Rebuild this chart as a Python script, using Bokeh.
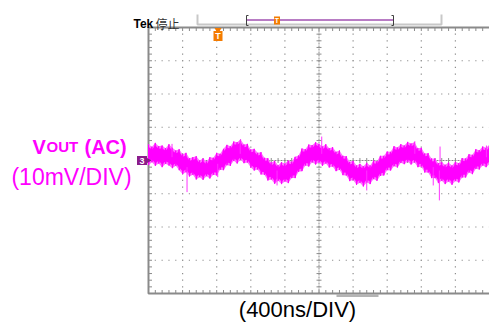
import numpy as np
from bokeh.plotting import figure
from bokeh.models import Range1d, Label, ColumnDataSource
from bokeh.embed import file_html
from bokeh.resources import INLINE

# ---------------- data (divisions; x: 0..10 div = 400 ns/div, y: -4..4 div = 10 mV/div)
trace_x = [round(0.1 * i, 1) for i in range(101)]
trace_top = [0.49, 0.41, 0.53, 0.43, 0.45, 0.37, 0.49, 0.38, 0.30, 0.34,
             0.19, 0.23, 0.07, 0.10, 0.13, 0.00, 0.06, -0.03, 0.10, 0.08,
             0.23, 0.20, 0.35, 0.47, 0.43, 0.57, 0.55, 0.63, 0.48, 0.50,
             0.33, 0.35, 0.23, 0.25, 0.08, 0.07, -0.06, -0.01, -0.14, -0.05,
             -0.09, 0.00, -0.04, 0.11, 0.15, 0.36, 0.34, 0.48, 0.46, 0.55,
             0.50, 0.42, 0.49, 0.37, 0.40, 0.26, 0.30, 0.14, 0.13, -0.04,
             -0.01, -0.15, -0.10, -0.17, -0.07, -0.15, 0.00, -0.02, 0.14, 0.14,
             0.27, 0.26, 0.43, 0.39, 0.49, 0.45, 0.56, 0.51, 0.55, 0.37,
             0.38, 0.21, 0.22, 0.06, 0.06, -0.08, -0.05, -0.13, -0.06, -0.15,
             -0.04, -0.08, 0.07, 0.06, 0.19, 0.17, 0.34, 0.31, 0.42, 0.38,
             0.47]
trace_bot = [-0.14, -0.05, -0.16, -0.09, -0.20, -0.10, -0.15, -0.23, -0.16, -0.29,
             -0.41, -0.35, -0.48, -0.43, -0.57, -0.50, -0.58, -0.47, -0.54, -0.43,
             -0.45, -0.28, -0.29, -0.14, -0.16, -0.01, -0.09, 0.02, -0.08, -0.06,
             -0.21, -0.30, -0.27, -0.42, -0.43, -0.60, -0.57, -0.70, -0.61, -0.71,
             -0.63, -0.68, -0.53, -0.53, -0.34, -0.32, -0.15, -0.18, -0.05, -0.12,
             -0.06, -0.16, -0.09, -0.21, -0.18, -0.32, -0.28, -0.44, -0.45, -0.62,
             -0.59, -0.73, -0.67, -0.78, -0.66, -0.71, -0.56, -0.61, -0.46, -0.45,
             -0.29, -0.30, -0.17, -0.21, -0.07, -0.11, -0.04, -0.12, -0.05, -0.20,
             -0.18, -0.36, -0.36, -0.53, -0.53, -0.68, -0.61, -0.71, -0.63, -0.73,
             -0.62, -0.66, -0.51, -0.51, -0.36, -0.41, -0.25, -0.27, -0.15, -0.20,
             -0.11]
spike_x = [0.69, 1.13, 2.03, 2.69, 3.77, 5.08, 6.40, 7.81, 8.35, 8.53, 8.55, 9.91]
spike_lo = [0.10, -0.95, -0.50, 0.20, -0.75, 0.20, -0.90, 0.20, -0.75, -1.20, -0.10, 0.10]
spike_hi = [0.50, -0.20, -0.10, 0.62, -0.30, 0.72, -0.30, 0.58, -0.20, -0.30, 0.42, 0.45]

x_divs = list(range(0, 11))
y_divs = list(range(-4, 5))
x_label = "(400ns/DIV)"
y_label_1 = "(10mV/DIV)"

# ---------------- figure: whole canvas is data space, scope screen = [0,10] x [-4,4]
W, H = 489, 323
PX_X, PX_Y = 34.1, 33.25          # pixels per division
X0 = -148 / PX_X
X1 = X0 + W / PX_X
Y1 = 160 / PX_Y
Y0 = Y1 - H / PX_Y

p = figure(width=W, height=H, output_backend="svg", toolbar_location=None,
           x_range=Range1d(X0, X1), y_range=Range1d(Y0, Y1),
           x_axis_location=None, y_axis_location=None, min_border=0)
p.outline_line_color = None
p.xgrid.visible = False
p.ygrid.visible = False
p.background_fill_color = "white"
p.border_fill_color = "white"

def px_x(px):
    return (px - 148) / PX_X

def px_y(px):
    return (160 - px) / PX_Y

def label(x, y, text, color, size, font="Liberation Sans", style="normal",
          align="left", baseline="alphabetic"):
    p.add_layout(Label(x=x, y=y, text=text, text_color=color, text_font=font,
                       text_font_size=size, text_font_style=style,
                       text_align=align, text_baseline=baseline))

GRID = "#8e8e8e"
BORDER = "#8a8a8a"

# dotted division grid (dots every 0.2 div)
minx = np.arange(0, 10.001, 0.2)
miny = np.arange(-4, 4.001, 0.2)
vx = [d for d in x_divs if d not in (0, 5, 10)]
hy = [d for d in y_divs if d not in (-4, 0, 4)]
gx, gy = np.meshgrid(vx, miny)
hx, hyy = np.meshgrid(minx, hy)
dots_x = np.concatenate([gx.ravel(), hx.ravel()])
dots_y = np.concatenate([gy.ravel(), hyy.ravel()])
p.rect(x=dots_x, y=dots_y, width=1.2, height=1.2, width_units="screen",
       height_units="screen", fill_color=GRID, line_color=None)

# centre cross lines with minor ticks
p.line([5, 5], [-4, 4], line_color="#8c8c8c", line_width=1, line_dash="2 1")
p.line([0, 10], [0, 0], line_color="#8c8c8c", line_width=1, line_dash="2 1")
tx, ty = 2.5 / PX_X, 2.5 / PX_Y
p.segment(x0=minx, y0=-ty, x1=minx, y1=ty, line_color="#8c8c8c", line_width=1)
p.segment(x0=5 - tx, y0=miny, x1=5 + tx, y1=miny, line_color="#8c8c8c", line_width=1)

# border ticks
L = 3.5
p.segment(x0=minx, y0=-4, x1=minx, y1=-4 + L / PX_Y, line_color=BORDER, line_width=1)
p.segment(x0=minx, y0=4, x1=minx, y1=4 - L / PX_Y, line_color=BORDER, line_width=1)
p.segment(x0=0, y0=miny, x1=L / PX_X, y1=miny, line_color=BORDER, line_width=1)

# border
p.line([10.2, 0, 0, 10.2], [4, 4, -4, -4], line_color=BORDER, line_width=2)

# horizontal position bar under the screen
p.line([px_x(336), px_x(378)], [px_y(295), px_y(295)], line_color="#b4b4b4", line_width=3)

# ---------------- trace
src = ColumnDataSource(dict(x=trace_x, top=trace_top, bot=trace_bot,
                            itop=[t - 0.08 for t in trace_top],
                            ibot=[b + 0.08 for b in trace_bot]))
p.varea(x="x", y1="bot", y2="top", source=src, fill_color="#ff70ff")
p.varea(x="x", y1="ibot", y2="itop", source=src, fill_color="#ff00ff")
zx, zy = [], []
for xv, t, b in zip(trace_x, trace_top, trace_bot):
    zx += [xv, xv]
    zy += [t, b]
p.line(zx, zy, line_color="#ff00ff", line_width=1)
p.segment(x0=spike_x, y0=spike_lo, x1=spike_x, y1=spike_hi, line_color="#ff33ff", line_width=1)

# ---------------- markers
# channel 3 ground marker
p.rect(x=px_x(141.5), y=0, width=10, height=9, width_units="screen",
       height_units="screen", fill_color="#8b1c8b", line_color=None)
p.scatter(x=[px_x(147.5)], y=[0], marker="triangle", angle=-np.pi / 2, size=6,
          fill_color="#8b1c8b", line_color=None)
label(px_x(141.5), 0, "3", "white", "9px", style="bold", align="center", baseline="middle")

# trigger position marker
p.scatter(x=[px_x(217.5)], y=[px_y(29.5)], marker="inverted_triangle", size=7,
          fill_color="#f47b00", line_color=None)
p.rect(x=px_x(217.5), y=px_y(35.5), width=9, height=10, width_units="screen",
       height_units="screen", fill_color="#f47b00", line_color=None)
label(px_x(217.5), px_y(35.5), "T", "white", "9px", style="bold", align="center", baseline="middle")

# top status bar
p.line([px_x(197), px_x(197), px_x(441), px_x(441)],
       [px_y(14), px_y(24), px_y(24), px_y(14)], line_color="#c8c8c8", line_width=2)
p.line([px_x(246), px_x(393)], [px_y(19.5), px_y(19.5)], line_color="#a050b0", line_width=1.5)
for bx, d in ((246, 2), (393, -2)):
    p.line([px_x(bx + d), px_x(bx), px_x(bx), px_x(bx + d)],
           [px_y(15), px_y(15), px_y(25), px_y(25)], line_color="#404040", line_width=1)
p.rect(x=px_x(276.5), y=px_y(20), width=6, height=8, width_units="screen",
       height_units="screen", fill_color="#f47b00", line_color=None)
label(px_x(276.5), px_y(20), "T", "white", "7px", style="bold", align="center", baseline="middle")
label(px_x(133), px_y(23), "Tek", "black", "12px", style="bold")
label(px_x(155), px_y(23), "停止", "#333333", "12px", font="Noto Sans CJK SC")

# ---------------- texts
MAG = "#ff00ff"
label(px_x(32), px_y(146), "V", MAG, "20px", style="bold")
label(px_x(46), px_y(146), "OUT", MAG, "15px", style="bold")
label(px_x(84), px_y(146), "(AC)", MAG, "20px", style="bold")
label(px_x(71), px_y(176), y_label_1, MAG, "23px", align="center", baseline="middle")
label(px_x(297), px_y(309), x_label, "black", "22px", align="center", baseline="middle")

open("out.html", "w").write(file_html(p, INLINE))
